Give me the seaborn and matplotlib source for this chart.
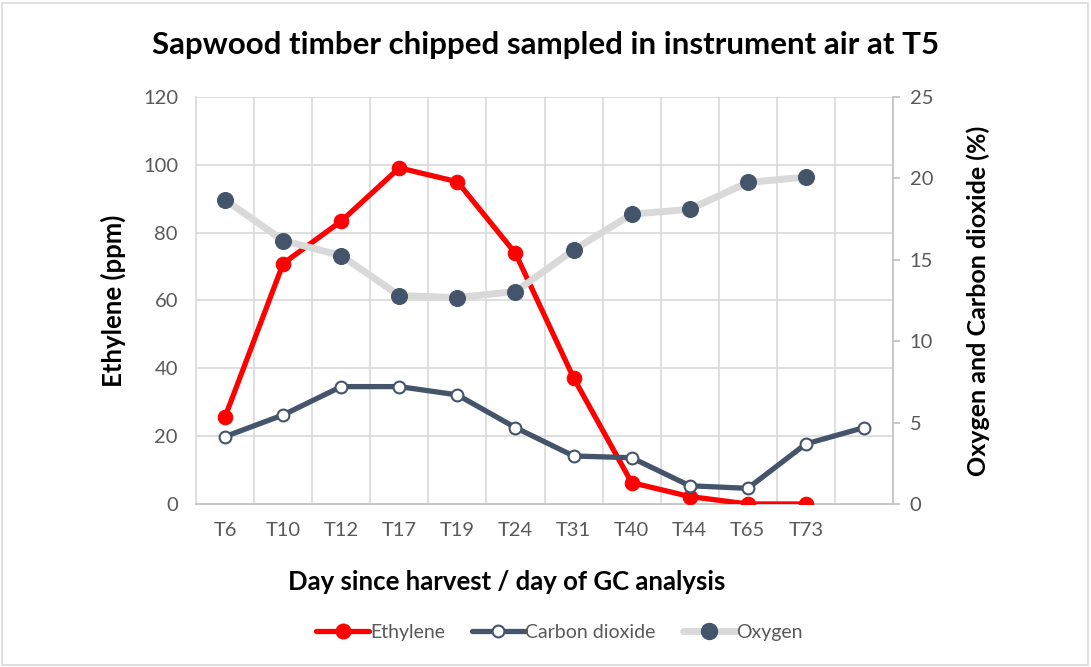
import numpy as np
import pandas as pd
import matplotlib
matplotlib.use("Agg")
import matplotlib.pyplot as plt
from matplotlib.lines import Line2D
from matplotlib.patches import Rectangle
import seaborn as sns

# -----------------------------
# Data
# -----------------------------
days = ["T6", "T10", "T12", "T17", "T19", "T24", "T31", "T40", "T44", "T65", "T73", ""]
ethylene = [25.7, 70.9, 83.4, 99.1, 95.0, 73.9, 37.2, 6.3, 2.2, 0.0, 0.0, np.nan]
carbon_dioxide = [4.14, 5.47, 7.21, 7.21, 6.70, 4.69, 2.95, 2.84, 1.12, 0.96, 3.69, 4.69]
oxygen = [18.68, 16.18, 15.26, 12.80, 12.68, 13.05, 15.60, 17.80, 18.10, 19.75, 20.08, np.nan]

df = pd.DataFrame({
    "pos": np.arange(len(days)),
    "day": days,
    "Ethylene": ethylene,
    "Carbon dioxide": carbon_dioxide,
    "Oxygen": oxygen,
})

RED = "#FF0000"
NAVY = "#44546A"
LIGHT = "#D9D9D9"
GRID = "#D9D9D9"
TXT = "#595959"

sns.set_style("white")
plt.rcParams["font.family"] = ["Lato", "DejaVu Sans"]

fig = plt.figure(figsize=(10.91, 6.67), dpi=100)
ax = fig.add_axes([0.1797, 0.2444, 0.8185 - 0.1797, 0.8546 - 0.2444])
ax2 = ax.twinx()

# -----------------------------
# Series
# -----------------------------
sns.lineplot(data=df, x="pos", y="Ethylene", ax=ax, color=RED, lw=3.8,
             marker="o", markersize=10.5, markeredgecolor=RED, zorder=3)

sns.lineplot(data=df, x="pos", y="Oxygen", ax=ax2, color=LIGHT, lw=5,
             marker="o", markersize=11.5, markerfacecolor=NAVY,
             markeredgecolor=NAVY, zorder=2)
sns.lineplot(data=df, x="pos", y="Carbon dioxide", ax=ax2, color=NAVY, lw=3.8,
             marker="o", markersize=8.5, markerfacecolor="white",
             markeredgecolor=NAVY, markeredgewidth=1.5, zorder=3)

# -----------------------------
# Axes styling
# -----------------------------
ax.set_xlim(-0.5, len(days) - 0.5)
ax.set_ylim(0, 120)
ax2.set_ylim(0, 25)
ax.set_yticks(np.arange(0, 121, 20))
ax2.set_yticks(np.arange(0, 26, 5))
ax.set_xticks(df["pos"])
ax.set_xticklabels(days)

# vertical gridlines at category boundaries, horizontal at left ticks
for b in np.arange(0.5, len(days) - 1, 1.0):
    ax.axvline(b, color=GRID, lw=1.2, zorder=0)
for t in np.arange(20, 121, 20):
    ax.axhline(t, color=GRID, lw=1.2, zorder=0)

for a in (ax, ax2):
    for s in a.spines.values():
        s.set_visible(False)
ax.spines["left"].set_visible(True)
ax.spines["left"].set_color(GRID)
ax.spines["left"].set_linewidth(1.2)
ax.spines["bottom"].set_visible(True)
ax.spines["bottom"].set_color("#BFBFBF")
ax.spines["bottom"].set_linewidth(1.2)
ax2.spines["right"].set_visible(True)
ax2.spines["right"].set_color("#BFBFBF")
ax2.spines["right"].set_linewidth(1.2)

ax.tick_params(axis="x", length=0, pad=13, labelsize=14.5, labelcolor=TXT)
ax.tick_params(axis="y", length=0, pad=13, labelsize=14.5, labelcolor=TXT)
ax2.tick_params(axis="y", length=5, width=1.2, color="#BFBFBF", pad=7,
                labelsize=14.5, labelcolor=TXT)

ax.set_xlabel("Day since harvest / day of GC analysis", fontsize=18.5,
              fontweight="bold", color="black")
ax.xaxis.set_label_coords(0.446, -0.163)
ax.set_ylabel("Ethylene (ppm)", fontsize=18.5, fontweight="bold",
              color="black", labelpad=12)
ax2.set_ylabel("Oxygen and Carbon dioxide (%)", fontsize=18,
               fontweight="bold", color="black", labelpad=24)

fig.text(0.5, 0.932, "Sapwood timber chipped sampled in instrument air at T5",
         fontsize=22.5, fontweight="bold", ha="center", va="center",
         color="black")

# -----------------------------
# Legend
# -----------------------------
handles = [
    Line2D([], [], color=RED, lw=3.8, marker="o", markersize=10.5,
           markeredgecolor=RED),
    Line2D([], [], color=NAVY, lw=3.8, marker="o", markersize=8.5,
           markerfacecolor="white", markeredgecolor=NAVY, markeredgewidth=1.5),
    Line2D([], [], color=LIGHT, lw=5, marker="o", markersize=11.5,
           markerfacecolor=NAVY, markeredgecolor=NAVY),
]
fig.legend(handles, ["Ethylene", "Carbon dioxide", "Oxygen"],
           loc="center", bbox_to_anchor=(0.513, 0.052), ncol=3, frameon=False,
           fontsize=14, handlelength=2.7, handletextpad=0.05, columnspacing=1.4,
           labelcolor=TXT)

if ax.get_legend():
    ax.get_legend().remove()

# outer frame
fig.patches.append(Rectangle((0.002, 0.003), 0.995, 0.993,
                             transform=fig.transFigure, fill=False,
                             edgecolor="#D9D9D9", lw=1.2))

plt.savefig("out.png", dpi=100)
plt.close()
